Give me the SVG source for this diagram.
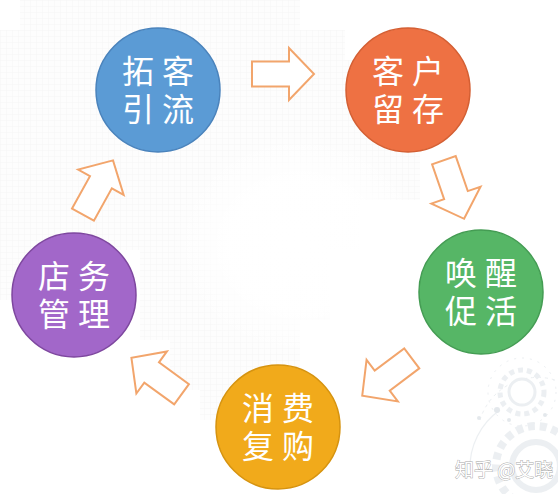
<svg xmlns="http://www.w3.org/2000/svg" width="558" height="494" viewBox="0 0 558 494">
  <defs>
    <pattern id="grid" width="6" height="6" patternUnits="userSpaceOnUse">
      <rect width="6" height="6" fill="#fcfcfc"/>
      <path d="M6 0H0V6" fill="none" stroke="#f0f0f0" stroke-width="0.8"/>
    </pattern>
    <radialGradient id="fadeC" cx="0.5" cy="0.5" r="0.5">
      <stop offset="0" stop-color="#fff" stop-opacity="1"/>
      <stop offset="0.55" stop-color="#fff" stop-opacity="0.95"/>
      <stop offset="1" stop-color="#fff" stop-opacity="0"/>
    </radialGradient>
    <polygon id="arrow" points="-31,-12.5 6,-12.5 6,-26 31,0 6,26 6,12.5 -31,12.5"/>
  </defs>
  <style>
    .node circle { stroke-width: 1.5; }
    .lbl { font-family: "Noto Sans CJK SC", "Noto Sans", sans-serif; font-size: 32px; fill: #ffffff; text-anchor: middle; }
    .arr { fill: #ffffff; stroke: #F2A56C; stroke-width: 2; stroke-linejoin: miter; }
    .gear { fill: none; stroke: #dde3e8; }
    .wm { font-family: "Noto Sans CJK SC", "Noto Sans", sans-serif; font-size: 19px; fill: #ffffff; stroke: #a8a8a8; stroke-width: 0.9; paint-order: stroke; }
  </style>

  <!-- background -->
  <rect width="558" height="494" fill="#ffffff"/>
  <g id="background">
    <path d="M20 0 H300 V30 H345 V60 H380 V100 H420 V200 H360 V250 H330 V320 H300 V420 H200 V390 H170 V340 H140 V250 H40 V300 H0 V30 H20 Z" fill="url(#grid)" opacity="0.75"/>
    <ellipse cx="300" cy="245" rx="130" ry="115" fill="url(#fadeC)"/>
    <g id="gears" opacity="0.55">
      <circle class="gear" cx="522" cy="392" r="22" stroke-width="5" stroke-dasharray="5 4"/>
      <circle class="gear" cx="522" cy="392" r="13" stroke-width="3"/>
      <circle class="gear" cx="522" cy="392" r="34" stroke-width="1" stroke-dasharray="2 6"/>
      <circle class="gear" cx="536" cy="466" r="40" stroke-width="8" stroke-dasharray="7 5" stroke="#e3e9ee"/>
      <circle class="gear" cx="536" cy="466" r="24" stroke-width="6" stroke="#e6ebef"/>
      <path class="gear" d="M470 470 A70 70 0 0 1 500 410" stroke-width="1.2"/>
      <path class="gear" d="M480 420 A60 60 0 0 1 555 380" stroke-width="1" stroke-dasharray="3 4"/>
      <circle cx="497" cy="410" r="3" fill="#cfd7de"/>
      <circle cx="509" cy="420" r="2" fill="#cfd7de"/>
      <circle cx="545" cy="415" r="2" fill="#cfd7de"/>
      <circle cx="479" cy="418" r="2" fill="#cfd7de"/>
    </g>
  </g>

  <!-- connectors -->
  <g id="connectors">
    <use href="#arrow" class="arr" transform="translate(283,74)"/>
    <use href="#arrow" class="arr" transform="translate(454,189.5) rotate(71)"/>
    <use href="#arrow" class="arr" transform="translate(387,377) rotate(143)"/>
    <use href="#arrow" class="arr" transform="translate(156.5,376) rotate(216)"/>
    <use href="#arrow" class="arr" transform="translate(98,187.5) rotate(-61)"/>
  </g>

  <!-- nodes -->
  <g id="node-tuoke" class="node">
    <circle cx="158" cy="90" r="62" fill="#5B9BD5" stroke="#4A83BC"/>
    <text class="lbl" x="138 178 138 178" y="83 83 121 121">拓客引流</text>
  </g>
  <g id="node-liucun" class="node">
    <circle cx="408" cy="90" r="62" fill="#EE7143" stroke="#D45F33"/>
    <text class="lbl" x="388 428 388 428" y="83 83 121 121">客户留存</text>
  </g>
  <g id="node-cuohuo" class="node">
    <circle cx="481" cy="292" r="62" fill="#56B666" stroke="#449C53"/>
    <text class="lbl" x="461 501 461 501" y="285 285 323 323">唤醒促活</text>
  </g>
  <g id="node-fugou" class="node">
    <circle cx="278" cy="427" r="62" fill="#F1AA1B" stroke="#D6930F"/>
    <text class="lbl" x="258 298 258 298" y="420 420 458 458">消费复购</text>
  </g>
  <g id="node-guanli" class="node">
    <circle cx="74" cy="295" r="62" fill="#A267C9" stroke="#7E479F"/>
    <text class="lbl" x="54 94 54 94" y="288 288 326 326">店务管理</text>
  </g>

  <text class="wm" x="455" y="477">知乎 @艾晓</text>
</svg>
